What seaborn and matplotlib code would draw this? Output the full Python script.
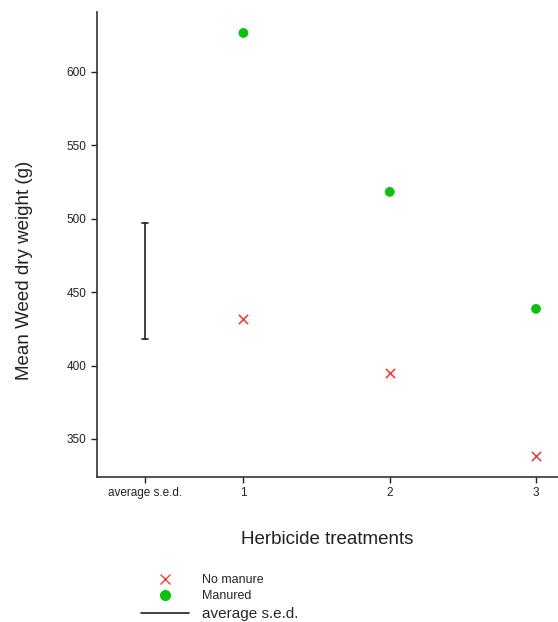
import numpy as np
import pandas as pd
import matplotlib
matplotlib.use("Agg")
import matplotlib.pyplot as plt
import seaborn as sns
from matplotlib.lines import Line2D

# values
treatments = [1, 2, 3]
no_manure = [431.7, 395.0, 338.4]
manured = [626.6, 518.3, 438.6]
sed_low, sed_high = 418.0, 497.3
sed_pos = 0.33
tick_pos = [sed_pos, 1, 2, 3]
tick_labels = ["average s.e.d.", "1", "2", "3"]

df = pd.DataFrame({
    "Herbicide": treatments * 2,
    "Weight": no_manure + manured,
    "Group": ["No manure"] * 3 + ["Manured"] * 3,
})

sns.set_style("white")
plt.rcParams["font.family"] = ["Liberation Sans", "DejaVu Sans"]

fig = plt.figure(figsize=(5.58, 6.22), dpi=100)
ax = fig.add_axes([0.174, 0.233, 0.826, 0.748])

sns.scatterplot(data=df[df["Group"] == "No manure"], x="Herbicide", y="Weight",
                marker="x", color="#f04040", s=45, linewidth=1.2, ax=ax, legend=False)
sns.scatterplot(data=df[df["Group"] == "Manured"], x="Herbicide", y="Weight",
                marker="o", color="#10c010", s=50, edgecolor="none", ax=ax, legend=False)

# average s.e.d. bar
ax.plot([sed_pos, sed_pos], [sed_low, sed_high], color="#222222", lw=1.2)
ax.plot([sed_pos - 0.02, sed_pos + 0.02], [sed_high, sed_high], color="#222222", lw=1.2)
ax.plot([sed_pos - 0.02, sed_pos + 0.02], [sed_low, sed_low], color="#222222", lw=1.2)

ax.set_xlim(0, 3.15)
ax.set_ylim(324, 641)
ax.set_xticks(tick_pos)
ax.set_xticklabels(tick_labels, fontsize=8)
ax.set_yticks([350, 400, 450, 500, 550, 600])
ax.tick_params(axis="both", direction="out", length=4, width=1, labelsize=8.5,
               colors="#222222", bottom=True, left=True)
sns.despine(ax=ax)
for sp in ["left", "bottom"]:
    ax.spines[sp].set_color("#333333")
    ax.spines[sp].set_linewidth(1.2)

ax.set_xlabel("Herbicide treatments", fontsize=13.5, labelpad=23, color="#222222")
ax.set_ylabel("Mean Weed dry weight (g)", fontsize=13.5, color="#222222")
ax.yaxis.set_label_coords(-0.139, 0.445)

handles = [
    Line2D([], [], marker="x", color="#f04040", linestyle="none", markersize=7),
    Line2D([], [], marker="o", color="#10c010", linestyle="none", markersize=7),
    Line2D([], [], color="#222222", lw=1.2),
]
leg = fig.legend(handles, ["No manure", "Manured", "average s.e.d."],
                 loc="upper left", bbox_to_anchor=(0.253, 0.077), frameon=False,
                 fontsize=9, handlelength=3.8, handletextpad=1.1,
                 labelspacing=0.35, borderaxespad=0, borderpad=0)
leg.get_texts()[2].set_fontsize(11)

fig.savefig("out.png", dpi=100)
